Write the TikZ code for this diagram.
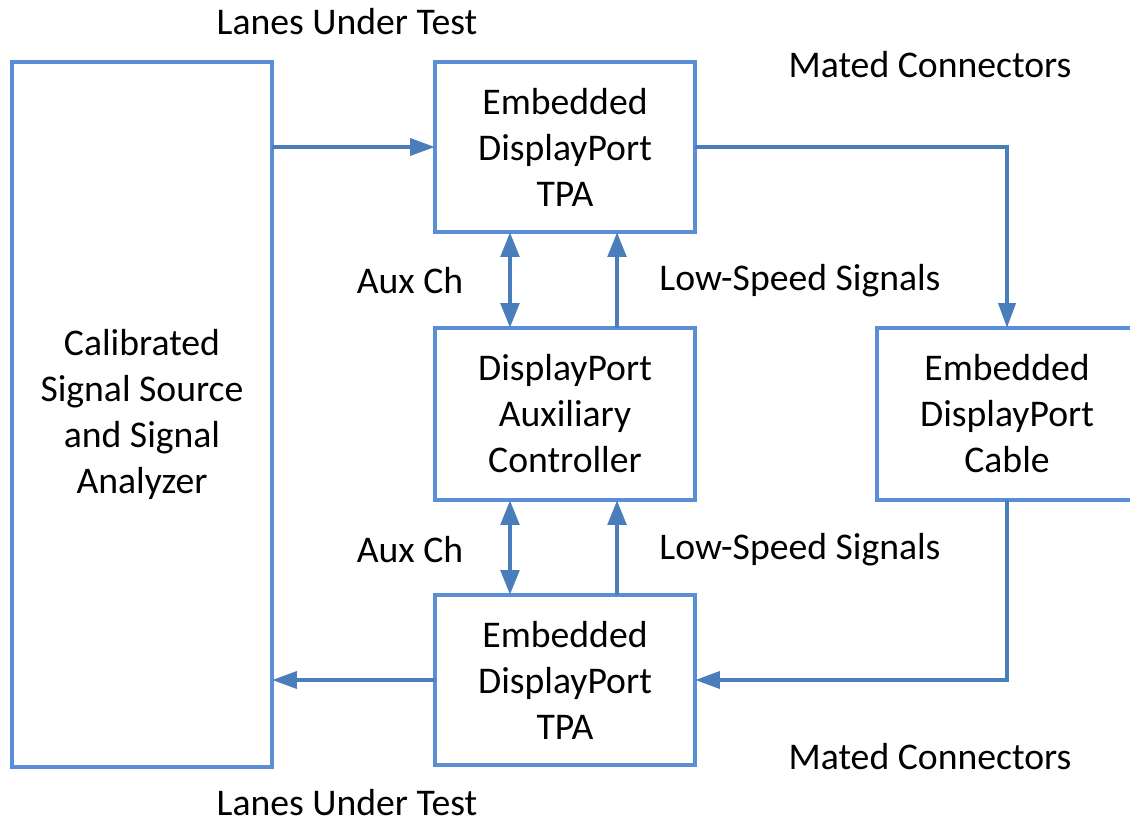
\documentclass[tikz,border=0pt]{standalone}
\usepackage{fontspec}
\setmainfont{Carlito}
\usetikzlibrary{shapes,arrows.meta}

\definecolor{boxblue}{HTML}{5B8ED6}
\definecolor{arrowblue}{HTML}{4A7EBB}

\tikzset{
  block/.style={shape=rectangle, draw=boxblue, line width=2.85pt, inner sep=0pt, outer sep=0pt,
    minimum width=6.5cm, align=center, font=\fontsize{26.8}{32.7}\selectfont},
  link/.style={draw=arrowblue, line width=2.85pt, -{Triangle[length=0.62cm, width=0.42cm]}},
  vlink/.style={draw=arrowblue, line width=3.5pt, -{Triangle[length=0.62cm, width=0.45cm]}},
  label/.style={font=\fontsize{26.8}{32.7}\selectfont}
}

\begin{document}
\begin{tikzpicture}[x=0.025cm, y=-0.025cm]
\useasboundingbox (0,0) rectangle (1130,823);

\node (source) at (142,414.5) [block, minimum height=17.625cm] {Calibrated\\Signal Source\\and Signal\\Analyzer};
\node (tpatop) at (565,147) [block, minimum height=4.25cm] {Embedded\\DisplayPort\\TPA};
\node (aux) at (565,414) [block, minimum height=4.3cm] {DisplayPort\\Auxiliary\\Controller};
\node (tpabot) at (565,680) [block, minimum height=4.25cm] {Embedded\\DisplayPort\\TPA};
\node (cable) at (1007,414) [block, minimum height=4.3cm] {Embedded\\DisplayPort\\Cable};

\node (lanestop) at (347,22) [label] {Lanes Under Test};
\node (lanesbot) at (347,803) [label] {Lanes Under Test};
\node (matedtop) at (930,65) [label] {Mated Connectors};
\node (matedbot) at (930,757) [label] {Mated Connectors};
\node (auxtop) at (410,281) [label] {Aux Ch};
\node (auxbot) at (410,550) [label] {Aux Ch};
\node (lowtop) at (800,281) [label] {Low-Speed Signals};
\node (lowbot) at (800,550) [label] {Low-Speed Signals};

\draw [link] (tpatop.west -| source.east) -- (tpatop.west);
\draw [link] (tpatop.east) -| (cable.north);
\draw [link] (cable.south) |- (tpabot.east);
\draw [link] (tpabot.west) -- (tpabot.west -| source.east);

\draw [vlink, {Triangle[length=0.62cm, width=0.45cm]}-{Triangle[length=0.62cm, width=0.45cm]}] ([xshift=-1.375cm]tpatop.south) -- ([xshift=-1.375cm]aux.north);
\draw [vlink] ([xshift=1.3cm]aux.north) -- ([xshift=1.3cm]tpatop.south);
\draw [vlink, {Triangle[length=0.62cm, width=0.45cm]}-{Triangle[length=0.62cm, width=0.45cm]}] ([xshift=-1.375cm]aux.south) -- ([xshift=-1.375cm]tpabot.north);
\draw [vlink] ([xshift=1.3cm]tpabot.north) -- ([xshift=1.3cm]aux.south);
\end{tikzpicture}
\end{document}
